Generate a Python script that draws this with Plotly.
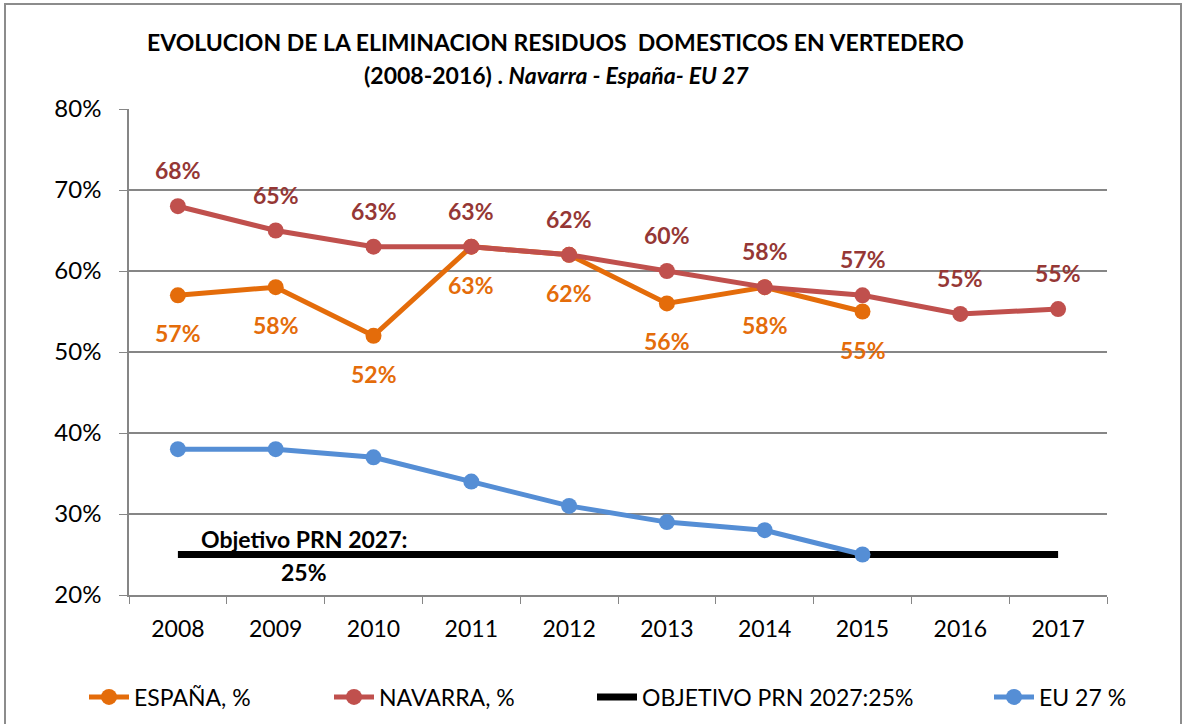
import plotly.graph_objects as go

years = ["2008", "2009", "2010", "2011", "2012", "2013", "2014", "2015", "2016", "2017"]
espana = [57, 58, 52, 63, 62, 56, 58, 55, None, None]
navarra = [68, 65, 63, 63, 62, 60, 58, 57, 54.7, 55.3]
navarra_labels = ["68%", "65%", "63%", "63%", "62%", "60%", "58%", "57%", "55%", "55%"]
espana_labels = ["57%", "58%", "52%", "63%", "62%", "56%", "58%", "55%", None, None]
objetivo = [25] * 10
eu27 = [38, 38, 37, 34, 31, 29, 28, 25, None, None]
y_ticks = [20, 30, 40, 50, 60, 70, 80]
y_ticktext = ["20%", "30%", "40%", "50%", "60%", "70%", "80%"]

FONT = "Lato, 'Open Sans', sans-serif"
C_ES = "#E46C0A"
C_NA = "#C0504D"
C_NA_LBL = "#953735"
C_EU = "#558ED5"
GRID = "#868686"

fig = go.Figure()

fig.add_trace(go.Scatter(x=years, y=espana, name="ESPAÑA, %", mode="lines+markers",
                         line=dict(color=C_ES, width=5), marker=dict(size=16, color=C_ES),
                         legend="legend"))
fig.add_trace(go.Scatter(x=years, y=navarra, name="NAVARRA, %", mode="lines+markers",
                         line=dict(color=C_NA, width=5), marker=dict(size=16, color=C_NA),
                         legend="legend2"))
fig.add_trace(go.Scatter(x=years, y=objetivo, name="OBJETIVO PRN 2027:25%", mode="lines",
                         line=dict(color="black", width=7), legend="legend3"))
fig.add_trace(go.Scatter(x=years, y=eu27, name="EU 27 %", mode="lines+markers",
                         line=dict(color=C_EU, width=5), marker=dict(size=16, color=C_EU),
                         legend="legend4"))

for i, (y, t) in enumerate(zip(navarra, navarra_labels)):
    fig.add_annotation(x=i, y=y, xref="x", yref="y", text=f"<b>{t}</b>", showarrow=False,
                       yshift=36, font=dict(family=FONT, size=23, color=C_NA_LBL))
for i, (y, t) in enumerate(zip(espana, espana_labels)):
    if y is None:
        continue
    fig.add_annotation(x=i, y=y, xref="x", yref="y", text=f"<b>{t}</b>", showarrow=False,
                       yshift=-38, font=dict(family=FONT, size=23, color=C_ES))

# objective annotation
fig.add_annotation(x=1.29, y=25, xref="x", yref="y", text="<b>Objetivo PRN 2027:</b>",
                   showarrow=False, yshift=16, font=dict(family=FONT, size=23, color="black"))
fig.add_annotation(x=1.29, y=25, xref="x", yref="y", text="<b>25%</b>",
                   showarrow=False, yshift=-17, font=dict(family=FONT, size=23, color="black"))

# title
fig.add_annotation(x=(555 - 129) / 978, y=(595 - 42) / 486, xref="paper", yref="paper",
                   xanchor="center", yanchor="middle",
                   text="<b>EVOLUCION DE LA ELIMINACION RESIDUOS\u00a0 DOMESTICOS EN VERTEDERO</b>",
                   showarrow=False, font=dict(family=FONT, size=23, color="black"))
fig.add_annotation(x=(556 - 129) / 978, y=(595 - 75) / 486, xref="paper", yref="paper",
                   xanchor="center", yanchor="middle",
                   text="<b>(2008-2016) . <i>Navarra - España- EU 27</i></b>",
                   showarrow=False, font=dict(family=FONT, size=23, color="black"))

# outer frame
fig.add_shape(type="rect", xref="paper", yref="paper",
              x0=(5 - 129) / 978, x1=(1181 - 129) / 978,
              y0=(595 - 740) / 486, y1=(595 - 4) / 486,
              line=dict(color="#8C8C8C", width=2), layer="below")

leg_common = dict(orientation="h", yanchor="middle", y=(595 - 697) / 486,
                  xanchor="left", font=dict(family=FONT, size=23, color="black"),
                  bgcolor="rgba(0,0,0,0)", itemwidth=40, tracegroupgap=0)

fig.update_layout(
    width=1187, height=724,
    margin=dict(l=129, r=80, t=109, b=129, autoexpand=False),
    paper_bgcolor="white", plot_bgcolor="white",
    font=dict(family=FONT, size=23, color="black"),
    showlegend=True,
    legend=dict(leg_common, x=(84 - 129) / 978),
    legend2=dict(leg_common, x=(329 - 129) / 978),
    legend3=dict(leg_common, x=(592 - 129) / 978),
    legend4=dict(leg_common, x=(989 - 129) / 978),
    xaxis=dict(type="category", range=[-0.5, 9.5], showgrid=False,
               showline=True, linecolor=GRID, linewidth=1.5,
               ticks="outside", tickson="boundaries", ticklen=7, tickcolor=GRID,
               ticklabelstandoff=13,
               tickfont=dict(family=FONT, size=23, color="black")),
    yaxis=dict(range=[20, 80], tickmode="array", tickvals=y_ticks, ticktext=y_ticktext,
               showgrid=True, gridcolor=GRID, gridwidth=1.5,
               showline=True, linecolor=GRID, linewidth=1.5,
               ticks="outside", ticklen=8, tickcolor=GRID, zeroline=False,
               ticklabelstandoff=13,
               tickfont=dict(family=FONT, size=24, color="black")),
)

fig.write_html("out.html", config={"displayModeBar": False},
               post_script="document.body.style.margin='0';document.body.style.overflow='hidden';")
